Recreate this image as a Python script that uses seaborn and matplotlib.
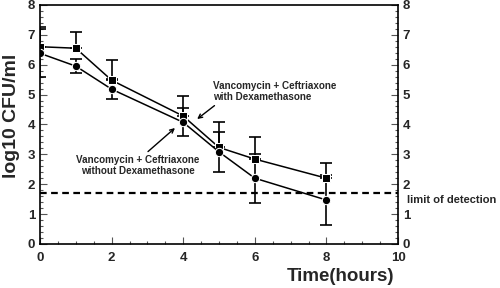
import numpy as np
import pandas as pd
import seaborn as sns
import matplotlib.pyplot as plt
from matplotlib.ticker import MultipleLocator

hours = [0, 1, 2, 4, 5, 6, 8]
with_dexa = [6.60, 6.55, 5.48, 4.28, 3.23, 2.84, 2.20]
with_dexa_err = [0.66, 0.54, 0.67, 0.67, 0.85, 0.74, 0.51]
without_dexa = [6.38, 5.95, 5.18, 4.07, 3.08, 2.20, 1.47]
without_dexa_err = [0.80, 0.24, 0.33, 0.47, 0.66, 0.82, 0.85]
detection_limit = 1.72

df = pd.DataFrame({
    "hours": hours * 2,
    "cfu": with_dexa + without_dexa,
    "group": ["with"] * len(hours) + ["without"] * len(hours),
})

sns.set_style("ticks")
plt.rcParams["font.family"] = ["Liberation Sans", "DejaVu Sans"]
plt.rcParams["font.weight"] = "bold"

fig = plt.figure(figsize=(5, 2.88), dpi=100)
ax = fig.add_axes([0.08, 0.153, 0.716, 0.83])

# error bars first so markers sit on top
ax.errorbar(hours, with_dexa, yerr=[np.zeros(len(hours)), with_dexa_err],
            fmt="none", ecolor="black", elinewidth=1.2, capsize=4.5, capthick=1.2)
ax.errorbar(hours, without_dexa, yerr=without_dexa_err,
            fmt="none", ecolor="black", elinewidth=1.2, capsize=4.5, capthick=1.2)

sns.lineplot(data=df, x="hours", y="cfu", hue="group", style="group",
             markers={"with": "s", "without": "o"}, dashes=False,
             palette={"with": "black", "without": "black"},
             markersize=6, linewidth=1.1, legend=False, ax=ax)

ax.axhline(detection_limit, color="black", linestyle=(0, (3, 2)), linewidth=1.6)

ax.set_xlim(0, 10)
ax.set_ylim(0, 8)
ax.xaxis.set_major_locator(MultipleLocator(2))
ax.xaxis.set_minor_locator(MultipleLocator(0.5))
ax.yaxis.set_major_locator(MultipleLocator(1))
ax.yaxis.set_minor_locator(MultipleLocator(0.2))
ax.tick_params(which="both", direction="in", right=True, labelright=True,
               labelsize=9.5, width=0.8, color="#555555")
ax.tick_params(which="major", length=5)
ax.tick_params(which="minor", length=2.5)
ax.tick_params(axis="x", pad=6)
for lab in ax.get_xticklabels() + ax.get_yticklabels():
    lab.set_fontweight("bold")
for s in ax.spines.values():
    s.set_linewidth(1.2)
    s.set_color("black")

ax.set_xlabel("Time(hours)", fontsize=13.5, fontweight="bold", va="center")
ax.xaxis.set_label_coords(0.84, -0.138)
ax.set_ylabel("log10 CFU/ml", fontsize=14, fontweight="bold", va="center")
ax.yaxis.set_label_coords(-0.08, 0.535)

ax.annotate("Vancomycin + Ceftriaxone\nwith Dexamethasone",
            xy=(4.39, 4.18), xytext=(4.82, 5.1),
            fontsize=7.1, fontweight="bold", ha="left", va="center",
            arrowprops=dict(arrowstyle="->", color="black", lw=1,
                            shrinkA=0, shrinkB=0, relpos=(0.05, 0.0)))
ax.annotate("Vancomycin + Ceftriaxone\nwithout Dexamethasone",
            xy=(3.77, 3.88), xytext=(2.74, 2.62),
            fontsize=7.1, fontweight="bold", ha="center", va="center",
            arrowprops=dict(arrowstyle="->", color="black", lw=1,
                            shrinkA=0, shrinkB=0, relpos=(0.55, 1.0)))

ax.text(10.25, 1.47, "limit of detection", fontsize=8, fontweight="bold",
        ha="left", va="center", clip_on=False)

fig.savefig("out.png", dpi=100)
